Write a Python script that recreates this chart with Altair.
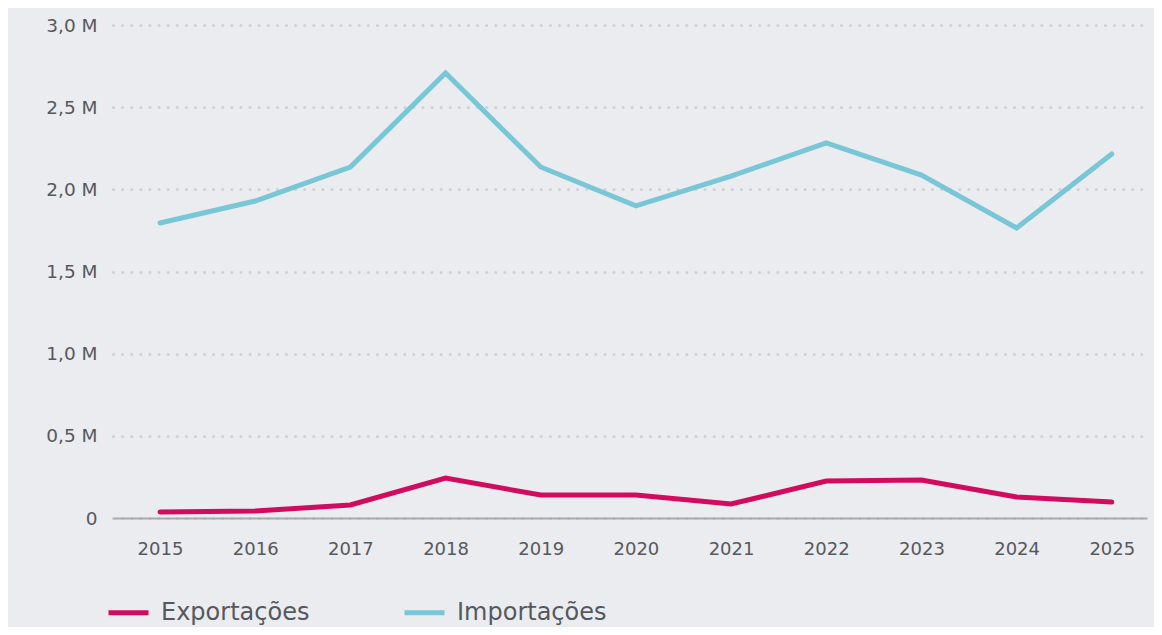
import altair as alt
import pandas as pd

years = [2015, 2016, 2017, 2018, 2019, 2020, 2021, 2022, 2023, 2024, 2025]
exportacoes = [37000, 43000, 79000, 243000, 140000, 140000, 85000, 225000, 231000, 128000, 97000]
importacoes = [1795000, 1929000, 2136000, 2708000, 2136000, 1899000, 2081000, 2282000, 2087000, 1765000, 2215000]
series = ["Exportações", "Importações"]
colors = ["#d30b5f", "#78c6d6"]

rows = []
for y, e, i in zip(years, exportacoes, importacoes):
    rows.append({"ano": y, "serie": series[0], "valor": e})
    rows.append({"ano": y, "serie": series[1], "valor": i})
df = pd.DataFrame(rows)

FONT = "DejaVu Sans"
LABEL_COLOR = "#55595d"

chart = alt.Chart(df).mark_line(strokeWidth=5, strokeCap="round", strokeJoin="miter").encode(
    x=alt.X("ano:Q",
            scale=alt.Scale(domain=[2014.506, 2025.37], nice=False, zero=False),
            axis=alt.Axis(title=None, values=years, format="d", grid=False, ticks=False,
                          domain=True, domainColor="#a8a9ab", domainWidth=2,
                          labelFontSize=18, labelColor=LABEL_COLOR, labelFont=FONT,
                          labelPadding=22, labelFlush=False)),
    y=alt.Y("valor:Q",
            scale=alt.Scale(domain=[0, 3000000], nice=False),
            axis=alt.Axis(title=None, values=[0, 500000, 1000000, 1500000, 2000000, 2500000, 3000000],
                          labelExpr="datum.value == 0 ? '0' : replace(format(datum.value/1000000, '.1f'), '.', ',') + ' M'",
                          domain=False, ticks=False, grid=True, gridColor="#cfd1d5",
                          gridDash=[0.1, 9], gridWidth=3, gridCap="round",
                          labelFontSize=18.5, labelColor=LABEL_COLOR, labelFont=FONT,
                          labelPadding=16)),
    color=alt.Color("serie:N",
                    scale=alt.Scale(domain=series, range=colors),
                    legend=alt.Legend(title=None, orient="none", direction="horizontal",
                                      legendX=-7, legendY=565,
                                      symbolType="stroke", symbolSize=1600, symbolStrokeWidth=5,
                                      labelFontSize=24, labelFont=FONT, labelColor=LABEL_COLOR,
                                      labelOffset=10, columnPadding=84, labelLimit=400)),
).properties(
    width=1034,
    height=493,
    background="#ebecf0",
    padding={"left": 105, "top": 17, "right": 7, "bottom": 109},
    autosize=alt.AutoSizeParams(type="none"),
).configure_view(stroke=None)

chart.save("out.html", embed_options={"renderer": "svg", "actions": False})
